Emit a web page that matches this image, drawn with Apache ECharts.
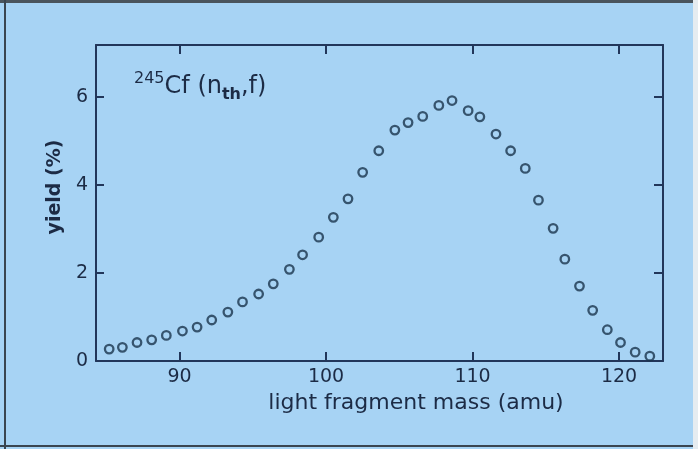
<!DOCTYPE html>
<html>
<head>
<meta charset="utf-8">
<script src="https://cdn.jsdelivr.net/npm/echarts@6/dist/echarts.min.js"></script>
<style>
html,body{margin:0;padding:0;background:#e8eef2;}
#c{width:698px;height:449px;}
</style>
</head>
<body>
<div id="c"></div>
<script>
// light fragment mass (amu)
var masses = [85.2,86.1,87.1,88.1,89.1,90.2,91.2,92.2,93.3,94.3,95.4,96.4,97.5,98.4,99.5,100.5,101.5,102.5,103.6,104.7,105.6,106.6,107.7,108.6,109.7,110.5,111.6,112.6,113.6,114.5,115.5,116.3,117.3,118.2,119.2,120.1,121.1,122.1];
// yield (%)
var yields = [0.27,0.31,0.42,0.48,0.58,0.68,0.77,0.93,1.11,1.34,1.52,1.75,2.08,2.41,2.81,3.26,3.68,4.28,4.77,5.24,5.41,5.55,5.80,5.91,5.68,5.54,5.15,4.77,4.37,3.65,3.01,2.31,1.70,1.15,0.71,0.42,0.20,0.11];
var xTicks = [90,100,110,120];
var yTicks = [0,2,4,6];
var xName = 'light fragment mass (amu)';
var yName = 'yield (%)';

var FONT = 'DejaVu Sans';
var INK = '#1c2b45';
var AX = '#22365a';

var chart = echarts.init(document.getElementById('c'));
var pts = masses.map(function(m,i){return [m, yields[i]];});

chart.setOption({
  backgroundColor:'#a7d3f4',
  animation:false,
  grid:{left:96,top:45,right:35,bottom:88},
  xAxis:[{
    type:'value',min:84.3,max:123,position:'bottom',
    axisLine:{onZero:false,lineStyle:{color:AX,width:2}},
    axisTick:{inside:true,length:9,customValues:xTicks,lineStyle:{color:AX,width:2}},
    axisLabel:{customValues:xTicks,color:INK,fontFamily:FONT,fontSize:19,margin:7},
    splitLine:{show:false},
    name:xName,nameLocation:'middle',nameGap:26,
    nameTextStyle:{color:INK,fontFamily:FONT,fontSize:22,padding:[0,0,0,73]}
  },{
    type:'value',min:84.3,max:123,position:'top',
    axisLine:{show:true,onZero:false,lineStyle:{color:AX,width:2}},
    axisTick:{show:true,inside:true,length:9,customValues:xTicks,lineStyle:{color:AX,width:2}},
    axisLabel:{show:false},splitLine:{show:false}
  }],
  yAxis:[{
    type:'value',min:0,max:7.17,position:'left',
    axisLine:{show:true,onZero:false,lineStyle:{color:AX,width:2}},
    axisTick:{show:true,inside:true,length:8,customValues:yTicks,lineStyle:{color:AX,width:2}},
    axisLabel:{customValues:yTicks,color:INK,fontFamily:FONT,fontSize:19,margin:8},
    splitLine:{show:false},
    name:yName,nameLocation:'middle',nameGap:30,nameRotate:90,
    nameTextStyle:{color:INK,fontFamily:FONT,fontSize:19,fontWeight:'bold',padding:[0,0,0,32]}
  },{
    type:'value',min:0,max:7.17,position:'right',
    axisLine:{show:true,onZero:false,lineStyle:{color:AX,width:2}},
    axisTick:{show:true,inside:true,length:9,customValues:[2,4,6],lineStyle:{color:AX,width:2}},
    axisLabel:{show:false},splitLine:{show:false}
  }],
  series:[{
    type:'scatter',xAxisIndex:0,yAxisIndex:0,
    data:pts,symbol:'circle',symbolSize:8.5,
    itemStyle:{color:'rgba(0,0,0,0)',borderColor:'#1a344c',borderWidth:2.3}
  }],
  graphic:[
    {type:'rect',shape:{x:0,y:0,width:698,height:3},style:{fill:'#4a545c'},silent:true},
    {type:'rect',shape:{x:4,y:0,width:2,height:449},style:{fill:'#3a4550'},silent:true},
    {type:'rect',shape:{x:0,y:445,width:698,height:2},style:{fill:'#3a4550'},silent:true},
    {type:'rect',shape:{x:693,y:0,width:5,height:449},style:{fill:'#e6ecf0'},silent:true},
    {type:'text',left:134,top:71,silent:true,
     style:{text:'{a|245}{b|Cf (n}{c|th}{b|,f)}',fill:INK,font:'24px "DejaVu Sans"',
       rich:{
         a:{fontSize:16,fontFamily:FONT,fill:INK,verticalAlign:'top',lineHeight:16},
         b:{fontSize:24,fontFamily:FONT,fill:INK,verticalAlign:'middle',lineHeight:32},
         c:{fontSize:16,fontFamily:FONT,fill:INK,fontWeight:'bold',verticalAlign:'bottom',lineHeight:20}
       }}}
  ]
});
</script>
</body>
</html>
